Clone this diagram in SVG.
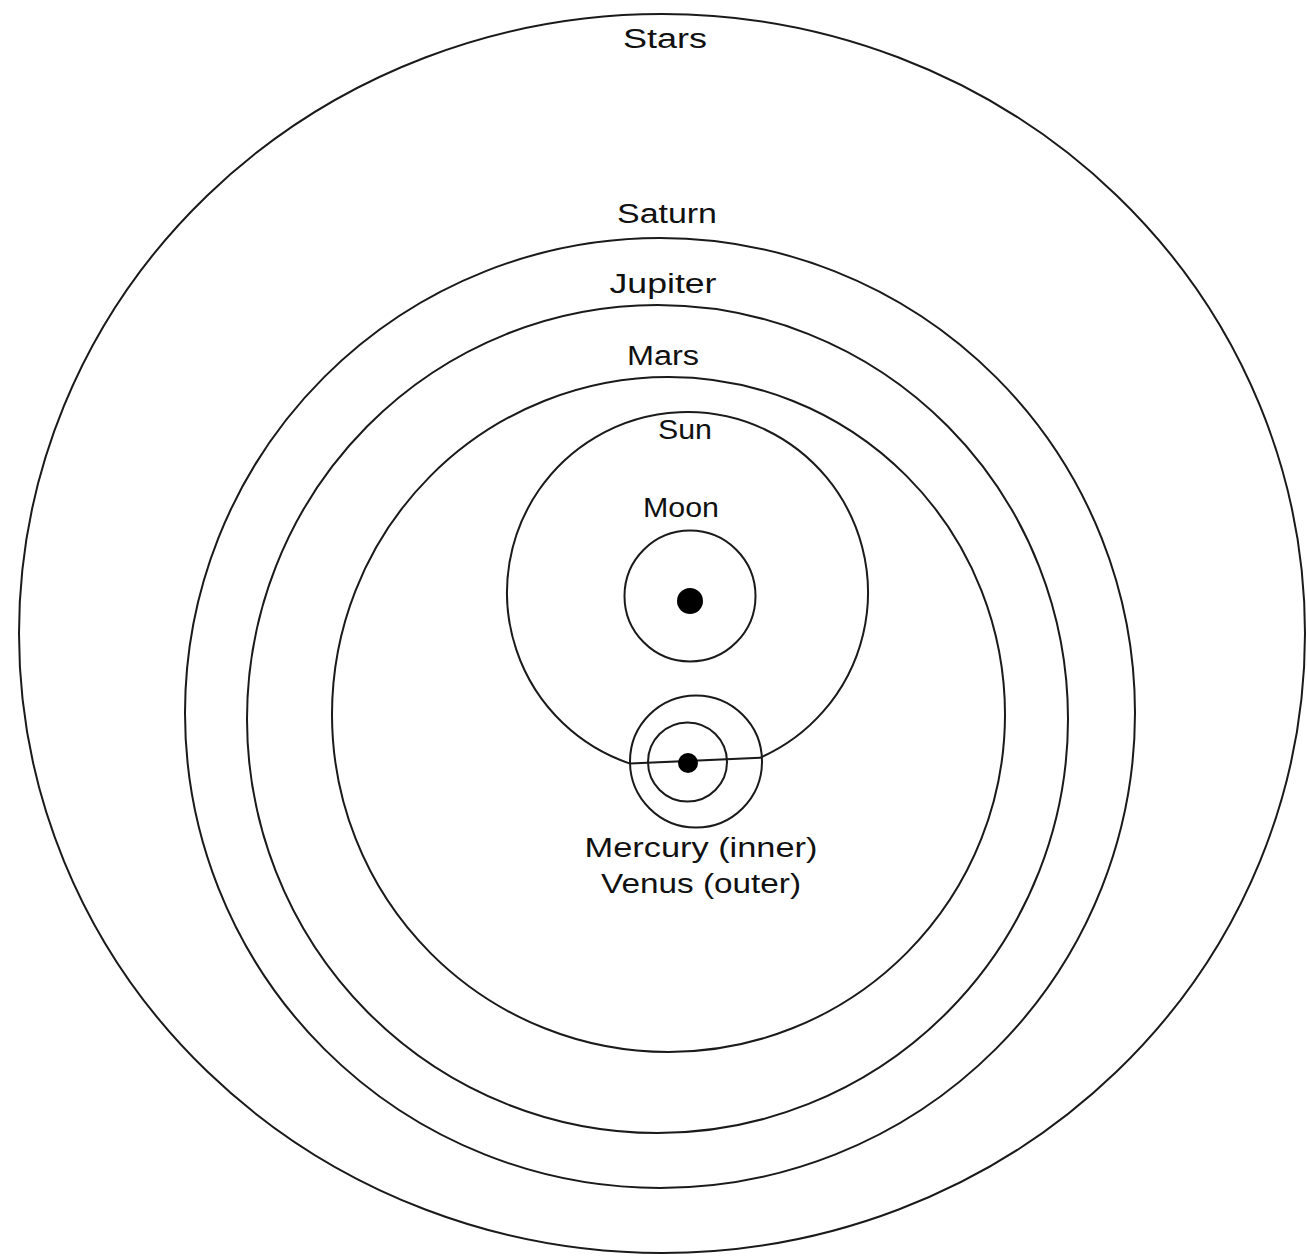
<svg xmlns="http://www.w3.org/2000/svg" width="1307" height="1258" viewBox="0 0 1307 1258">
<style>
.orb{fill:none;stroke:#1a1a1a;stroke-width:2}
.lbl{font-family:"Liberation Sans","DejaVu Sans",sans-serif;font-size:27px;fill:#111;text-anchor:middle}
.body{fill:#000}
</style>
<rect width="1307" height="1258" fill="#fff"/>
<g id="stars"><ellipse class="orb" cx="662" cy="633.5" rx="643" ry="619.5"/><text class="lbl" x="665" y="48" textLength="84" lengthAdjust="spacingAndGlyphs">Stars</text></g>
<g id="saturn"><ellipse class="orb" cx="660" cy="713" rx="475" ry="475"/><text class="lbl" x="667" y="223" textLength="100" lengthAdjust="spacingAndGlyphs">Saturn</text></g>
<g id="jupiter"><ellipse class="orb" cx="657.5" cy="719" rx="410.5" ry="414"/><text class="lbl" x="663" y="293" textLength="107" lengthAdjust="spacingAndGlyphs">Jupiter</text></g>
<g id="mars"><ellipse class="orb" cx="668.5" cy="714.5" rx="336.5" ry="337.5"/><text class="lbl" x="663" y="365" textLength="72" lengthAdjust="spacingAndGlyphs">Mars</text></g>
<g id="sun-orbit"><path class="orb" d="M630,763.6 A180.5,180.5 0 1 1 760,757.8 Z"/><text class="lbl" x="685" y="439" textLength="54" lengthAdjust="spacingAndGlyphs">Sun</text></g>
<g id="moon"><circle class="orb" cx="690" cy="596" r="65.5"/><text class="lbl" x="681" y="517" textLength="76" lengthAdjust="spacingAndGlyphs">Moon</text></g>
<g id="earth"><circle class="body" cx="690" cy="601" r="13"/></g>
<g id="venus"><circle class="orb" cx="696" cy="761.5" r="66"/></g>
<g id="mercury"><circle class="orb" cx="687.5" cy="762" r="39.5"/></g>
<g id="sun"><circle class="body" cx="688" cy="763" r="10"/></g>
<g id="labels"><text class="lbl" x="701" y="857" textLength="233" lengthAdjust="spacingAndGlyphs">Mercury (inner)</text><text class="lbl" x="701" y="893" textLength="200" lengthAdjust="spacingAndGlyphs">Venus (outer)</text></g>
</svg>
